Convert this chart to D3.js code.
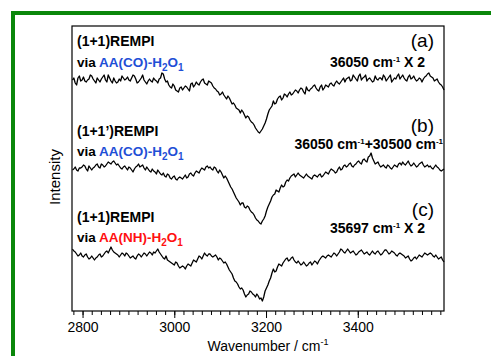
<!DOCTYPE html>
<html>
<head>
<meta charset="utf-8">
<script src="https://cdn.jsdelivr.net/npm/d3@7"></script>
<style>
  html, body { margin: 0; padding: 0; background: #fff; overflow: hidden; }
  #chart { width: 491px; height: 356px; }
  svg { display: block; overflow: visible; font-family: "Liberation Sans", Arial, sans-serif; }
</style>
</head>
<body>
<div id="chart"></div>
<script>
// sampling grid of the spectra (cm-1)
const wavenumberStart = 2778;
const wavenumberStep = 3;

// intensity (arb. units, vertical offsets included)
const traceA = [
  231, 233, 228, 226, 233, 235, 230, 231, 234, 230, 229, 231, 232, 236, 235, 232, 230, 228, 233, 231,
  229, 232, 234, 236, 231, 229, 236, 233, 230, 228, 233, 230, 228, 229, 232, 230, 235, 233, 231, 232,
  234, 231, 230, 233, 236, 235, 232, 228, 229, 231, 233, 236, 231, 229, 227, 230, 232, 230, 229, 233,
  231, 230, 228, 232, 233, 238, 237, 232, 229, 230, 226, 224, 223, 227, 225, 221, 220, 219, 223, 224,
  221, 223, 225, 224, 222, 220, 227, 228, 224, 226, 229, 227, 226, 229, 231, 232, 228, 227, 226, 230,
  229, 228, 225, 223, 222, 220, 219, 216, 217, 219, 216, 214, 212, 215, 213, 210, 207, 208, 206, 203,
  202, 201, 198, 201, 199, 196, 193, 195, 194, 191, 189, 188, 186, 183, 181, 179, 178, 180, 182, 185,
  188, 192, 197, 201, 203, 205, 210, 207, 208, 212, 214, 215, 211, 213, 217, 216, 214, 217, 219, 216,
  217, 219, 221, 220, 218, 221, 223, 222, 219, 217, 224, 221, 220, 222, 223, 225, 226, 223, 221, 220,
  224, 226, 221, 223, 226, 225, 224, 227, 228, 226, 225, 228, 230, 228, 227, 229, 231, 233, 229, 232,
  233, 234, 230, 231, 236, 234, 232, 230, 235, 237, 231, 233, 234, 236, 230, 232, 233, 231, 229, 230,
  235, 232, 231, 233, 233, 231, 236, 234, 230, 232, 234, 236, 229, 231, 233, 232, 235, 237, 232, 234,
  236, 233, 231, 230, 234, 236, 232, 233, 235, 232, 230, 231, 233, 232, 229, 232, 234, 235, 237, 238,
  235, 234, 233, 230, 231, 232, 229, 227, 226, 224, 221
];
const traceB = [
  141, 142, 144, 141, 140, 143, 143, 144, 146, 145, 142, 140, 145, 143, 141, 143, 144, 146, 147, 144,
  143, 147, 146, 144, 145, 147, 149, 148, 147, 149, 150, 148, 146, 147, 145, 143, 142, 144, 145, 143,
  141, 144, 143, 141, 139, 142, 144, 145, 147, 144, 145, 146, 143, 141, 144, 142, 140, 139, 142, 140,
  139, 137, 141, 139, 137, 136, 138, 135, 134, 137, 136, 133, 132, 134, 135, 132, 131, 133, 134, 133,
  132, 134, 136, 133, 134, 137, 138, 136, 135, 138, 140, 139, 138, 141, 143, 142, 141, 144, 145, 143,
  144, 142, 141, 144, 143, 140, 138, 141, 139, 136, 133, 135, 133, 130, 127, 124, 122, 119, 116, 113,
  111, 109, 106, 108, 108, 104, 103, 105, 104, 101, 99, 98, 96, 93, 91, 90, 88, 87, 90, 92,
  95, 100, 104, 107, 110, 114, 116, 117, 121, 120, 119, 123, 126, 124, 125, 129, 131, 130, 133, 135,
  136, 137, 134, 136, 138, 136, 135, 134, 133, 135, 137, 135, 134, 133, 132, 135, 136, 135, 134, 136,
  137, 134, 135, 137, 139, 138, 137, 140, 142, 141, 140, 138, 139, 142, 144, 141, 142, 145, 146, 144,
  145, 147, 148, 145, 144, 146, 147, 149, 150, 148, 147, 151, 152, 150, 149, 154, 155, 158, 153, 150,
  147, 148, 149, 146, 144, 145, 146, 144, 143, 146, 145, 143, 142, 144, 146, 145, 144, 147, 148, 146,
  149, 147, 146, 148, 150, 147, 145, 146, 148, 146, 144, 145, 147, 148, 149, 146, 144, 145, 146, 144,
  145, 143, 142, 144, 146, 144, 143, 141, 140, 141, 142
];
const traceC = [
  62, 60, 59, 57, 55, 56, 58, 55, 54, 56, 57, 54, 52, 53, 55, 53, 51, 53, 54, 56,
  57, 54, 55, 57, 59, 60, 58, 61, 64, 61, 59, 58, 57, 56, 54, 56, 58, 57, 55, 58,
  57, 55, 53, 54, 55, 53, 52, 55, 57, 56, 54, 56, 58, 57, 55, 57, 59, 58, 56, 59,
  58, 60, 62, 59, 57, 55, 53, 52, 55, 51, 50, 49, 48, 47, 46, 49, 48, 45, 43, 44,
  45, 44, 42, 45, 47, 46, 45, 48, 51, 50, 49, 52, 55, 54, 52, 55, 58, 56, 55, 57,
  57, 55, 54, 55, 56, 54, 51, 53, 52, 50, 48, 49, 47, 44, 41, 39, 37, 33, 30, 29,
  27, 24, 22, 23, 21, 17, 14, 16, 17, 20, 19, 17, 16, 14, 17, 15, 12, 13, 10, 14,
  20, 23, 26, 30, 33, 38, 42, 39, 40, 44, 47, 46, 45, 48, 50, 52, 53, 50, 51, 53,
  54, 51, 49, 48, 50, 48, 46, 47, 49, 47, 45, 46, 48, 49, 46, 48, 50, 49, 47, 50,
  52, 54, 55, 54, 53, 55, 56, 55, 54, 56, 58, 57, 55, 57, 59, 62, 61, 59, 58, 60,
  62, 60, 58, 59, 60, 58, 56, 57, 59, 60, 61, 59, 57, 58, 59, 57, 56, 58, 60, 58,
  57, 59, 60, 58, 56, 57, 59, 61, 61, 59, 57, 58, 60, 59, 58, 56, 55, 57, 58, 57,
  56, 55, 53, 54, 55, 52, 50, 51, 53, 54, 52, 54, 56, 55, 54, 56, 58, 57, 56, 57,
  58, 57, 55, 54, 56, 54, 52, 53, 54, 51, 49
];

const majorTicks = [2800, 3000, 3200, 3400];
const minorTicks = d3.range(2780, 3588, 20);

const panelTags = ['(a)', '(b)', '(c)'];
const schemes = ['(1+1)REMPI', '(1+1\u2019)REMPI', '(1+1)REMPI'];
const species = ['AA(CO)', 'AA(CO)', 'AA(NH)'];
const speciesColors = ['#1f4fd6', '#1f4fd6', '#ff1010'];
const laserNotes = [
  [['36050 cm', ''], ['-1', 'sup'], [' X 2', '']],
  [['36050 cm', ''], ['-1', 'sup'], ['+30500 cm', ''], ['-1', 'sup']],
  [['35697 cm', ''], ['-1', 'sup'], [' X 2', '']]
];

const width = 491, height = 356;
const margin = { top: 26, right: 47, bottom: 45, left: 72 };
const innerWidth = width - margin.left - margin.right;
const innerHeight = height - margin.top - margin.bottom;

const svg = d3.select('#chart').append('svg')
  .attr('width', width)
  .attr('height', height)
  .attr('viewBox', `0 0 ${width} ${height}`);

// green frame (left + top only, as cropped in the original)
svg.append('path')
  .attr('d', `M13,${height} V13 H${width}`)
  .attr('fill', 'none')
  .attr('stroke', '#0a870a')
  .attr('stroke-width', 4);

const chart = svg.append('g')
  .attr('transform', `translate(${margin.left},${margin.top})`);

const xScale = d3.scaleLinear()
  .domain([2777, 3588])
  .range([0, innerWidth]);

const yScale = d3.scaleLinear()
  .domain([0, 285])
  .range([innerHeight, 0]);

const line = d3.line()
  .x((d, i) => xScale(wavenumberStart + i * wavenumberStep))
  .y(d => yScale(d));

chart.selectAll('.trace')
  .data([traceA, traceB, traceC])
  .enter()
  .append('path')
  .attr('class', 'trace')
  .attr('d', d => line(d))
  .attr('fill', 'none')
  .attr('stroke', '#000')
  .attr('stroke-width', 1.3)
  .attr('stroke-linejoin', 'round');

// axes
const minorAxis = chart.append('g')
  .attr('transform', `translate(0,${innerHeight})`)
  .call(d3.axisBottom(xScale).tickValues(minorTicks).tickSize(4).tickFormat(''));
minorAxis.selectAll('text').remove();

const majorAxis = chart.append('g')
  .attr('transform', `translate(0,${innerHeight})`)
  .call(d3.axisBottom(xScale).tickValues(majorTicks).tickSize(7).tickPadding(4).tickFormat(d3.format('d')));

[minorAxis, majorAxis].forEach(g => {
  g.select('.domain').remove();
  g.selectAll('line').attr('stroke', '#000').attr('stroke-width', 1);
});
majorAxis.selectAll('text')
  .attr('fill', '#000')
  .style('font-size', '14px');

chart.append('rect')
  .attr('width', innerWidth)
  .attr('height', innerHeight)
  .attr('fill', 'none')
  .attr('stroke', '#000')
  .attr('stroke-width', 1.2);

// axis titles
const xTitle = svg.append('text')
  .attr('x', margin.left + xScale(3200) + 2)
  .attr('y', 351)
  .attr('text-anchor', 'middle')
  .style('font-size', '14px');
xTitle.append('tspan').text('Wavenumber / cm');
xTitle.append('tspan').attr('dy', -6).style('font-size', '9px').text('-1');

svg.append('text')
  .attr('transform', `translate(60,177) rotate(-90)`)
  .attr('text-anchor', 'middle')
  .style('font-size', '15px')
  .text('Intensity');

// per-trace annotations
const schemeY = [20, 110, 196];
const viaY = [41, 130, 216];
const tagY = [21, 106, 190];
const noteY = [41, 123, 207];
const noteRight = [353, 371, 353];

panelTags.forEach((tag, k) => {
  chart.append('text')
    .attr('x', 5)
    .attr('y', schemeY[k])
    .style('font-size', '14px')
    .style('font-weight', 'bold')
    .text(schemes[k]);

  const via = chart.append('text')
    .attr('x', 5)
    .attr('y', viaY[k])
    .style('font-size', '13.5px')
    .style('font-weight', 'bold');
  via.append('tspan').text('via ');
  via.append('tspan').attr('fill', speciesColors[k]).text(species[k] + '-H');
  via.append('tspan').attr('fill', speciesColors[k]).attr('dy', 4).style('font-size', '10px').text('2');
  via.append('tspan').attr('fill', speciesColors[k]).attr('dy', -4).text('O');
  via.append('tspan').attr('fill', speciesColors[k]).attr('dy', 4).style('font-size', '10px').text('1');

  chart.append('text')
    .attr('x', 362)
    .attr('y', tagY[k])
    .attr('text-anchor', 'end')
    .style('font-size', '19px')
    .text(tag);

  const note = chart.append('text')
    .attr('x', noteRight[k])
    .attr('y', noteY[k])
    .attr('text-anchor', 'end')
    .style('font-size', '14px')
    .style('font-weight', 'bold');
  let up = false;
  laserNotes[k].forEach(([txt, kind]) => {
    const t = note.append('tspan').text(txt);
    if (kind === 'sup') {
      t.attr('dy', -5).style('font-size', '8px');
      up = true;
    } else if (up) {
      t.attr('dy', 5);
      up = false;
    }
  });
});
</script>
</body>
</html>
